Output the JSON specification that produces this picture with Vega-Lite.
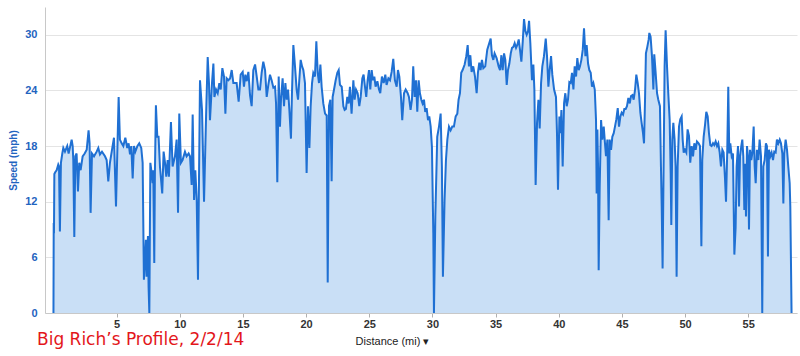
{
"$schema": "https://vega.github.io/schema/vega-lite/v6.json",
"width": 752, "height": 306,
"autosize": "none",
"padding": {"left": 45, "top": 7, "right": 3, "bottom": 43},
"background": "white",
"config": {"view": {"stroke": null}, "font": "Liberation Sans"},
"title": {"text": "Big Rich’s Profile, 2/2/14", "orient": "bottom", "anchor": "start", "frame": "group", "color": "#e3161b", "fontSize": 17, "fontWeight": "normal", "font": "DejaVu Sans", "dx": -8, "dy": -14, "offset": 0},
"data": {"values": [
{"d":0.00,"s":0},{"d":0.02,"s":9.7},{"d":0.04,"s":8.6},{"d":0.07,"s":15.0},{"d":0.15,"s":15.2},{"d":0.25,"s":15.4},{"d":0.38,"s":16.0},{"d":0.44,"s":15.8},{"d":0.51,"s":8.8},{"d":0.59,"s":16.2},{"d":0.70,"s":17.2},{"d":0.78,"s":17.8},{"d":0.91,"s":17.4},{"d":1.09,"s":18.0},{"d":1.20,"s":17.2},{"d":1.44,"s":18.7},{"d":1.52,"s":18.0},{"d":1.57,"s":16.5},{"d":1.65,"s":8.2},{"d":1.73,"s":16.9},{"d":1.83,"s":17.2},{"d":1.94,"s":13.1},{"d":2.04,"s":16.2},{"d":2.15,"s":15.4},{"d":2.31,"s":16.9},{"d":2.47,"s":17.2},{"d":2.63,"s":17.6},{"d":2.78,"s":19.7},{"d":2.86,"s":18.3},{"d":2.94,"s":10.8},{"d":3.05,"s":17.2},{"d":3.21,"s":16.9},{"d":3.42,"s":17.4},{"d":3.55,"s":17.8},{"d":3.68,"s":17.1},{"d":3.84,"s":17.4},{"d":4.08,"s":16.9},{"d":4.21,"s":16.5},{"d":4.34,"s":14.2},{"d":4.47,"s":16.2},{"d":4.68,"s":18.0},{"d":4.79,"s":18.9},{"d":4.95,"s":11.5},{"d":5.16,"s":23.3},{"d":5.26,"s":18.7},{"d":5.40,"s":18.3},{"d":5.53,"s":18.0},{"d":5.69,"s":18.9},{"d":5.84,"s":17.8},{"d":5.95,"s":18.3},{"d":6.06,"s":17.1},{"d":6.16,"s":18.0},{"d":6.27,"s":14.5},{"d":6.37,"s":18.0},{"d":6.48,"s":17.4},{"d":6.64,"s":18.0},{"d":6.79,"s":18.3},{"d":6.95,"s":17.8},{"d":7.06,"s":16.2},{"d":7.16,"s":3.6},{"d":7.32,"s":7.9},{"d":7.37,"s":3.9},{"d":7.48,"s":8.3},{"d":7.53,"s":2.8},{"d":7.59,"s":0},{"d":7.67,"s":16.2},{"d":7.77,"s":15.1},{"d":7.85,"s":14.0},{"d":7.90,"s":15.4},{"d":7.98,"s":5.4},{"d":8.03,"s":15.1},{"d":8.11,"s":22.4},{"d":8.22,"s":19.0},{"d":8.32,"s":19.0},{"d":8.43,"s":15.8},{"d":8.61,"s":12.9},{"d":8.72,"s":17.4},{"d":8.83,"s":16.2},{"d":8.93,"s":14.7},{"d":9.04,"s":16.5},{"d":9.14,"s":14.7},{"d":9.30,"s":20.6},{"d":9.43,"s":15.8},{"d":9.62,"s":16.9},{"d":9.75,"s":18.7},{"d":9.86,"s":10.8},{"d":9.96,"s":21.5},{"d":10.09,"s":16.2},{"d":10.22,"s":16.5},{"d":10.41,"s":17.4},{"d":10.54,"s":16.9},{"d":10.70,"s":17.2},{"d":10.81,"s":16.9},
{"d":10.94,"s":13.8},{"d":11.02,"s":21.4},{"d":11.13,"s":12.2},{"d":11.23,"s":15.4},{"d":11.34,"s":12.2},{"d":11.44,"s":3.6},{"d":11.60,"s":25.1},{"d":11.76,"s":21.9},{"d":11.92,"s":12.0},{"d":12.08,"s":21.2},{"d":12.21,"s":27.6},{"d":12.31,"s":24.8},{"d":12.39,"s":20.8},{"d":12.55,"s":24.8},{"d":12.66,"s":26.9},{"d":12.74,"s":23.3},{"d":12.87,"s":24.1},{"d":13.00,"s":23.7},{"d":13.13,"s":24.8},{"d":13.24,"s":24.1},{"d":13.37,"s":26.4},{"d":13.50,"s":25.5},{"d":13.61,"s":21.5},{"d":13.71,"s":25.3},{"d":13.84,"s":25.1},{"d":13.98,"s":25.3},{"d":14.11,"s":26.2},{"d":14.24,"s":24.8},{"d":14.37,"s":24.8},{"d":14.50,"s":24.8},{"d":14.66,"s":22.8},{"d":14.82,"s":25.7},{"d":14.98,"s":26.0},{"d":15.08,"s":24.4},{"d":15.19,"s":25.7},{"d":15.30,"s":25.0},{"d":15.43,"s":26.0},{"d":15.56,"s":23.5},{"d":15.69,"s":22.3},{"d":15.82,"s":26.2},{"d":15.96,"s":26.8},{"d":16.09,"s":25.5},{"d":16.22,"s":24.1},{"d":16.35,"s":24.1},{"d":16.48,"s":25.9},{"d":16.61,"s":27.1},{"d":16.75,"s":26.2},{"d":16.88,"s":23.3},{"d":17.01,"s":24.6},{"d":17.14,"s":25.7},{"d":17.27,"s":25.1},{"d":17.41,"s":24.3},{"d":17.54,"s":24.4},{"d":17.62,"s":22.6},{"d":17.72,"s":14.1},{"d":17.83,"s":25.5},{"d":17.93,"s":20.1},{"d":18.01,"s":23.0},{"d":18.14,"s":25.3},{"d":18.25,"s":22.3},{"d":18.36,"s":24.8},{"d":18.46,"s":23.0},{"d":18.57,"s":24.1},{"d":18.67,"s":22.0},{"d":18.80,"s":18.8},{"d":18.88,"s":23.7},{"d":18.99,"s":28.9},{"d":19.12,"s":26.6},{"d":19.25,"s":24.1},{"d":19.36,"s":23.0},{"d":19.46,"s":25.1},{"d":19.57,"s":27.3},{"d":19.68,"s":26.6},{"d":19.78,"s":26.2},{"d":19.91,"s":24.8},{"d":20.04,"s":15.1},{"d":20.15,"s":22.3},{"d":20.26,"s":17.8},{"d":20.36,"s":22.3},{"d":20.47,"s":24.8},{"d":20.57,"s":25.9},{"d":20.70,"s":25.5},{"d":20.81,"s":29.3},{"d":20.92,"s":25.9},{"d":21.02,"s":24.8},{"d":21.13,"s":26.8},{"d":21.23,"s":24.4},{"d":21.36,"s":22.6},{"d":21.50,"s":21.5},{"d":21.63,"s":21.3},{"d":21.71,"s":3.3},{"d":21.81,"s":22.3},{"d":21.92,"s":23.0},{"d":22.02,"s":14.2},{"d":22.10,"s":23.3},{"d":22.21,"s":24.1},{"d":22.34,"s":25.1},{"d":22.47,"s":25.9},{"d":22.58,"s":26.2},{"d":22.68,"s":24.6},{"d":22.82,"s":24.4},{"d":22.95,"s":22.3},{"d":23.05,"s":21.9},
{"d":23.15,"s":22.0},{"d":23.26,"s":23.3},{"d":23.37,"s":22.6},{"d":23.47,"s":24.4},{"d":23.60,"s":21.5},{"d":23.74,"s":25.1},{"d":23.84,"s":23.0},{"d":23.95,"s":24.1},{"d":24.08,"s":23.7},{"d":24.21,"s":22.3},{"d":24.32,"s":23.3},{"d":24.45,"s":25.3},{"d":24.55,"s":25.7},{"d":24.66,"s":24.4},{"d":24.76,"s":23.3},{"d":24.87,"s":25.1},{"d":24.98,"s":26.2},{"d":25.08,"s":24.1},{"d":25.19,"s":26.2},{"d":25.29,"s":25.1},{"d":25.40,"s":25.5},{"d":25.50,"s":24.4},{"d":25.64,"s":25.0},{"d":25.77,"s":24.1},{"d":25.87,"s":23.7},{"d":26.00,"s":25.5},{"d":26.14,"s":24.8},{"d":26.27,"s":25.7},{"d":26.37,"s":24.6},{"d":26.51,"s":25.3},{"d":26.64,"s":25.1},{"d":26.77,"s":26.0},{"d":26.90,"s":27.4},{"d":27.03,"s":25.1},{"d":27.17,"s":24.4},{"d":27.27,"s":26.2},{"d":27.38,"s":25.5},{"d":27.51,"s":23.3},{"d":27.61,"s":20.8},{"d":27.75,"s":23.7},{"d":27.88,"s":24.1},{"d":28.04,"s":23.7},{"d":28.14,"s":23.3},{"d":28.27,"s":21.9},{"d":28.38,"s":23.0},{"d":28.48,"s":26.6},{"d":28.59,"s":23.3},{"d":28.70,"s":25.1},{"d":28.80,"s":21.7},{"d":28.91,"s":25.1},{"d":29.01,"s":23.7},{"d":29.12,"s":23.0},{"d":29.22,"s":22.6},{"d":29.33,"s":23.0},{"d":29.43,"s":21.7},{"d":29.54,"s":22.1},{"d":29.65,"s":20.8},{"d":29.75,"s":21.2},{"d":29.86,"s":20.1},{"d":29.96,"s":17.9},{"d":30.07,"s":8.6},{"d":30.12,"s":0},{"d":30.23,"s":10.4},{"d":30.38,"s":19.0},{"d":30.52,"s":20.1},{"d":30.65,"s":21.5},{"d":30.75,"s":15.8},{"d":30.83,"s":3.9},{"d":30.96,"s":12.2},{"d":31.07,"s":16.5},{"d":31.18,"s":18.7},{"d":31.31,"s":20.1},{"d":31.44,"s":19.7},{"d":31.57,"s":20.1},{"d":31.70,"s":20.1},{"d":31.84,"s":21.2},{"d":31.97,"s":21.5},{"d":32.07,"s":23.0},{"d":32.18,"s":23.7},{"d":32.28,"s":25.9},{"d":32.39,"s":26.2},{"d":32.55,"s":26.8},{"d":32.68,"s":27.7},{"d":32.79,"s":28.9},{"d":32.89,"s":26.6},{"d":33.00,"s":27.8},{"d":33.10,"s":26.0},{"d":33.23,"s":26.6},{"d":33.37,"s":25.5},{"d":33.50,"s":23.7},{"d":33.60,"s":25.9},{"d":33.71,"s":27.0},{"d":33.81,"s":26.2},{"d":33.92,"s":27.3},{"d":34.03,"s":26.4},{"d":34.18,"s":26.6},{"d":34.34,"s":28.4},{"d":34.50,"s":29.1},{"d":34.61,"s":29.6},{"d":34.71,"s":27.8},{"d":34.82,"s":27.3},{"d":34.92,"s":28.0},{"d":35.08,"s":27.5},{"d":35.24,"s":26.6},
{"d":35.35,"s":26.2},{"d":35.46,"s":27.8},{"d":35.56,"s":26.2},{"d":35.67,"s":28.0},{"d":35.77,"s":27.3},{"d":35.88,"s":24.6},{"d":35.98,"s":26.2},{"d":36.09,"s":26.9},{"d":36.20,"s":28.0},{"d":36.30,"s":28.6},{"d":36.41,"s":28.7},{"d":36.51,"s":29.1},{"d":36.62,"s":28.6},{"d":36.72,"s":28.9},{"d":36.83,"s":29.5},{"d":36.93,"s":28.4},{"d":37.04,"s":27.1},{"d":37.15,"s":29.3},{"d":37.25,"s":31.7},{"d":37.36,"s":30.4},{"d":37.46,"s":30.0},{"d":37.57,"s":30.4},{"d":37.65,"s":31.5},{"d":37.75,"s":29.1},{"d":37.88,"s":25.1},{"d":37.99,"s":26.8},{"d":38.07,"s":24.1},{"d":38.17,"s":13.8},{"d":38.28,"s":20.5},{"d":38.39,"s":23.0},{"d":38.49,"s":19.9},{"d":38.60,"s":24.8},{"d":38.70,"s":26.6},{"d":38.83,"s":27.7},{"d":38.97,"s":29.6},{"d":39.07,"s":27.7},{"d":39.18,"s":24.4},{"d":39.28,"s":26.2},{"d":39.39,"s":27.7},{"d":39.49,"s":25.7},{"d":39.63,"s":24.1},{"d":39.78,"s":23.3},{"d":39.86,"s":19.4},{"d":39.94,"s":13.3},{"d":40.05,"s":21.2},{"d":40.13,"s":19.4},{"d":40.21,"s":21.9},{"d":40.31,"s":15.8},{"d":40.42,"s":22.6},{"d":40.52,"s":23.7},{"d":40.63,"s":22.3},{"d":40.73,"s":23.0},{"d":40.84,"s":24.9},{"d":40.95,"s":24.8},{"d":41.05,"s":25.9},{"d":41.16,"s":24.1},{"d":41.26,"s":26.6},{"d":41.37,"s":25.5},{"d":41.47,"s":27.5},{"d":41.58,"s":26.2},{"d":41.68,"s":26.6},{"d":41.79,"s":27.3},{"d":41.90,"s":28.4},{"d":42.00,"s":30.7},{"d":42.11,"s":27.7},{"d":42.21,"s":28.9},{"d":42.32,"s":26.9},{"d":42.42,"s":26.2},{"d":42.53,"s":25.9},{"d":42.63,"s":24.4},{"d":42.74,"s":24.8},{"d":42.85,"s":24.1},{"d":42.95,"s":20.8},{"d":43.00,"s":12.9},{"d":43.06,"s":19.8},{"d":43.11,"s":15.8},{"d":43.16,"s":4.6},{"d":43.24,"s":13.6},{"d":43.35,"s":20.8},{"d":43.45,"s":18.7},{"d":43.56,"s":20.1},{"d":43.66,"s":18.3},{"d":43.74,"s":16.9},{"d":43.85,"s":18.7},{"d":43.95,"s":10.0},{"d":44.03,"s":18.7},{"d":44.14,"s":17.6},{"d":44.24,"s":19.0},{"d":44.35,"s":19.4},{"d":44.45,"s":20.1},{"d":44.56,"s":20.9},{"d":44.67,"s":22.1},{"d":44.77,"s":20.1},{"d":44.88,"s":21.2},{"d":44.98,"s":21.6},{"d":45.09,"s":21.4},{"d":45.19,"s":22.0},{"d":45.30,"s":22.0},{"d":45.40,"s":22.3},{"d":45.51,"s":23.2},{"d":45.62,"s":22.6},{"d":45.72,"s":23.4},{"d":45.83,"s":23.5},{"d":45.93,"s":23.0},{"d":46.04,"s":24.1},{"d":46.14,"s":25.7},{"d":46.25,"s":24.8},{"d":46.35,"s":23.7},{"d":46.46,"s":21.6},{"d":46.56,"s":20.5},{"d":46.67,"s":19.4},{"d":46.75,"s":18.3},
{"d":46.83,"s":23.0},{"d":46.90,"s":28.0},{"d":47.01,"s":28.7},{"d":47.12,"s":29.5},{"d":47.17,"s":30.2},{"d":47.27,"s":29.8},{"d":47.38,"s":27.7},{"d":47.49,"s":24.1},{"d":47.56,"s":27.9},{"d":47.67,"s":25.9},{"d":47.78,"s":23.7},{"d":47.88,"s":23.0},{"d":48.01,"s":22.3},{"d":48.09,"s":15.8},{"d":48.15,"s":11.5},{"d":48.22,"s":4.8},{"d":48.30,"s":15.8},{"d":48.38,"s":26.6},{"d":48.46,"s":30.5},{"d":48.57,"s":26.6},{"d":48.67,"s":23.7},{"d":48.78,"s":20.8},{"d":48.86,"s":15.1},{"d":48.91,"s":9.5},{"d":48.99,"s":18.7},{"d":49.07,"s":20.5},{"d":49.17,"s":18.7},{"d":49.25,"s":15.8},{"d":49.33,"s":3.9},{"d":49.41,"s":15.8},{"d":49.52,"s":20.1},{"d":49.62,"s":20.9},{"d":49.73,"s":21.2},{"d":49.81,"s":18.7},{"d":49.89,"s":17.3},{"d":49.99,"s":17.6},{"d":50.10,"s":17.3},{"d":50.20,"s":19.8},{"d":50.31,"s":19.1},{"d":50.41,"s":16.2},{"d":50.52,"s":18.0},{"d":50.63,"s":16.9},{"d":50.73,"s":18.3},{"d":50.84,"s":17.6},{"d":50.94,"s":18.5},{"d":51.07,"s":18.3},{"d":51.18,"s":18.0},{"d":51.29,"s":7.2},{"d":51.36,"s":16.5},{"d":51.47,"s":19.0},{"d":51.58,"s":20.3},{"d":51.68,"s":21.7},{"d":51.79,"s":21.2},{"d":51.89,"s":19.4},{"d":52.00,"s":18.1},{"d":52.10,"s":18.0},{"d":52.21,"s":18.3},{"d":52.31,"s":18.1},{"d":52.42,"s":18.5},{"d":52.53,"s":18.0},{"d":52.63,"s":18.3},{"d":52.74,"s":17.3},{"d":52.84,"s":15.8},{"d":52.95,"s":17.6},{"d":53.05,"s":17.3},{"d":53.16,"s":14.5},{"d":53.24,"s":12.0},{"d":53.34,"s":17.6},{"d":53.42,"s":24.4},{"d":53.50,"s":17.2},{"d":53.58,"s":18.3},{"d":53.69,"s":16.9},{"d":53.79,"s":17.2},{"d":53.90,"s":6.3},{"d":54.00,"s":9.2},{"d":54.08,"s":15.8},{"d":54.19,"s":18.0},{"d":54.27,"s":11.5},{"d":54.35,"s":16.9},{"d":54.45,"s":18.0},{"d":54.53,"s":18.7},{"d":54.61,"s":16.9},{"d":54.69,"s":11.1},{"d":54.77,"s":16.1},{"d":54.82,"s":10.4},{"d":54.90,"s":18.0},{"d":54.98,"s":16.9},{"d":55.06,"s":9.0},{"d":55.14,"s":17.6},{"d":55.24,"s":16.5},{"d":55.32,"s":17.2},{"d":55.43,"s":20.1},{"d":55.51,"s":15.8},{"d":55.59,"s":14.0},{"d":55.69,"s":17.6},{"d":55.80,"s":16.5},{"d":55.90,"s":18.7},{"d":56.01,"s":16.9},{"d":56.11,"s":0},{"d":56.19,"s":15.8},{"d":56.30,"s":16.5},{"d":56.40,"s":18.3},{"d":56.48,"s":18.0},{"d":56.56,"s":6.1},{"d":56.64,"s":17.6},{"d":56.75,"s":16.9},{"d":56.85,"s":17.3},{"d":56.96,"s":16.5},{"d":57.06,"s":17.4},{"d":57.17,"s":17.3},{"d":57.27,"s":18.7},{"d":57.38,"s":18.3},{"d":57.49,"s":18.7},{"d":57.59,"s":18.3},{"d":57.70,"s":17.2},{"d":57.78,"s":11.8},{"d":57.85,"s":17.2},{"d":57.96,"s":18.7},{"d":58.07,"s":17.6},{"d":58.17,"s":15.8},{"d":58.28,"s":14.0},{"d":58.33,"s":11.5},{"d":58.43,"s":0}
]},
"mark": {"type": "area", "color": "#c9dff6", "opacity": 1, "line": {"color": "#1f70d3", "strokeWidth": 2}},
"encoding": {
  "x": {"field": "d", "type": "quantitative",
        "scale": {"domain": [-0.67, 58.86], "nice": false, "zero": false},
        "axis": {"values": [5,10,15,20,25,30,35,40,45,50,55], "grid": false, "domainColor": "#c8c8c8", "tickColor": "#b0b0b0", "tickSize": 4, "labelPadding": 1, "labelFont": "Liberation Sans", "labelFontWeight": "bold", "labelFontSize": 11, "labelColor": "#333333",
                 "title": "Distance (mi)  ▾", "titleFont": "Liberation Sans", "titleFontWeight": "normal", "titleFontSize": 11, "titleColor": "#222222", "titleX": 347, "titleY": 28, "titleBaseline": "middle"}},
  "y": {"field": "s", "type": "quantitative",
        "scale": {"domain": [0, 33], "nice": false},
        "axis": {"values": [0,6,12,18,24,30], "grid": true, "gridColor": "#e4e4e4", "domainColor": "#c8c8c8", "ticks": false, "labelPadding": 8, "labelFont": "Liberation Sans", "labelFontWeight": "bold", "labelFontSize": 11, "labelColor": "#1f64c0",
                 "title": "Speed (mph)", "titleFont": "Liberation Sans", "titleColor": "#1f64c0", "titleFontSize": 10, "titleFontWeight": "bold", "titleX": -32, "titleBaseline": "middle"}}
}
}
